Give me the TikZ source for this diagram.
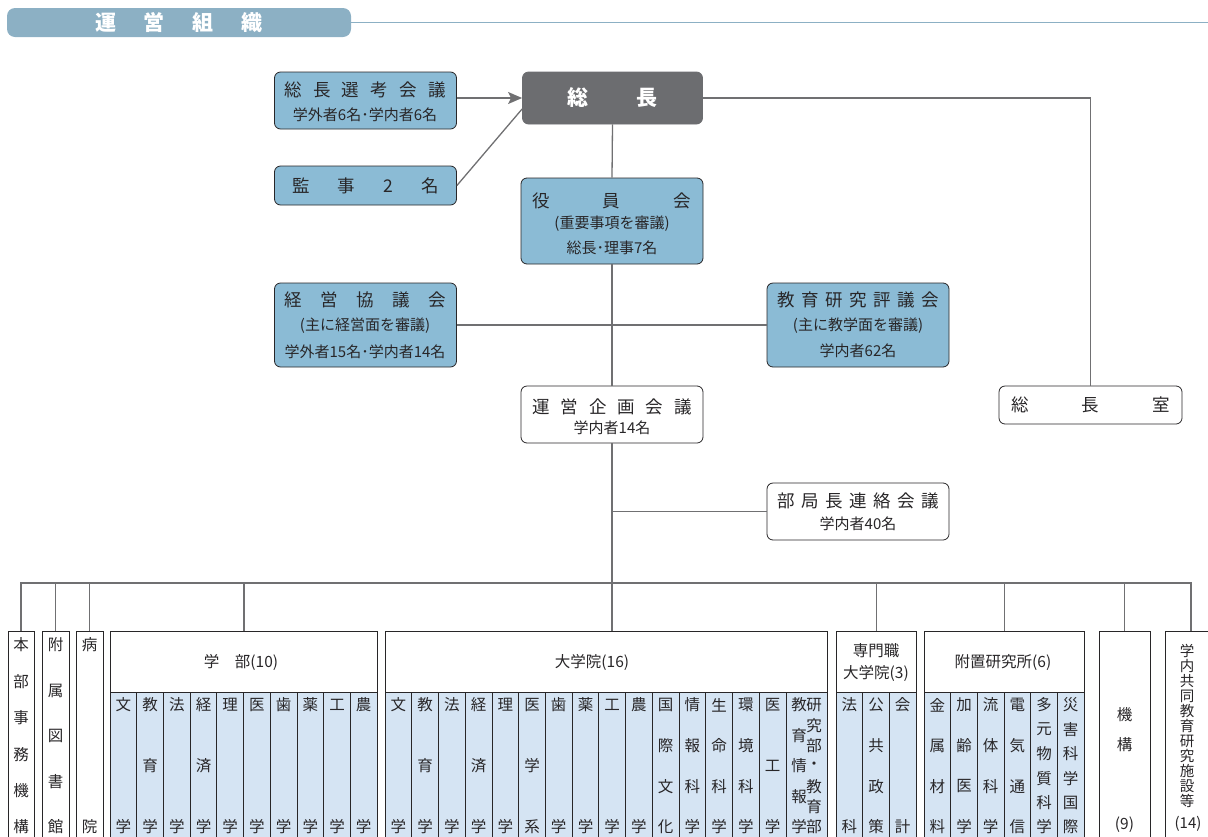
\documentclass[tikz,border=0pt]{standalone}
\usepackage{fontspec}
\setmainfont{Noto Sans CJK JP}
\usetikzlibrary{arrows.meta}

\definecolor{boxblue}{RGB}{139,187,213}
\definecolor{chiefgray}{RGB}{108,109,112}
\definecolor{colblue}{RGB}{213,228,243}
\definecolor{titleblue}{RGB}{140,176,196}
\definecolor{linegray}{RGB}{112,112,114}
\definecolor{inkgray}{RGB}{40,38,40}

% spread the characters of a label over a fixed width
\newcommand\spreadline[2]{\makebox[#1pt]{#2}}

\begin{document}
\begin{tikzpicture}[
    x=1pt, y=-1pt,
    >=Stealth, % Set default arrow tip style
    orgbox/.style={draw=inkgray, line width=0.8pt, rounded corners=6pt, minimum width=182, inner sep=0pt, text=inkgray},
    bluebox/.style={orgbox, fill=boxblue},
    plainbox/.style={orgbox, fill=white},
    headbox/.style={draw=inkgray, line width=0.8pt, fill=white, inner sep=0pt},
    colbody/.style={draw=inkgray, line width=0.8pt, fill=colblue},
    colline/.style={draw=inkgray, line width=0.7pt},
    link/.style={draw=linegray, line width=1.3pt},
    lbl/.style={inner sep=0pt, text=inkgray},
    bigtext/.style={lbl, font=\fontsize{17.5}{20}\selectfont},
    subtext/.style={lbl, font=\fontsize{15}{17}\selectfont},
    headtext/.style={lbl, font=\fontsize{15.5}{18}\selectfont},
    colchar/.style={lbl, font=\fontsize{15.5}{18}\selectfont}
]
    \useasboundingbox (0,0) rectangle (1208,836);

    \def\coltop{705}  % first character of a column
    \def\colbot{827}  % last character of a column
    \def\boxbot{852}  % columns run off the page

    % --- Title bar ---
    \node[fill=titleblue, rounded corners=8pt, minimum width=344, minimum height=29, inner sep=0pt,
          text=white, font=\fontsize{21}{24}\selectfont\bfseries] (title) at (179,22.5)
          {\spreadline{168}{運\hfill 営\hfill 組\hfill 織}};
    \coordinate (titleend) at (1208,22.5);
    \draw[draw=titleblue, line width=1.5pt] (title.east) -- (titleend);

    % --- Top boxes ---
    \node[bluebox, minimum height=57] (kouko) at (365.5,100.5) {};
    \node[bigtext] (kouko-t1) at (365,90) {\spreadline{161}{総\hfill 長\hfill 選\hfill 考\hfill 会\hfill 議}};
    \node[subtext] (kouko-t2) at (365,115) {学外者6名･学内者6名};

    \node[orgbox, fill=chiefgray, draw=chiefgray, minimum width=180, minimum height=52,
          text=white, font=\fontsize{21}{24}\selectfont\bfseries] (souchou) at (612.5,98)
          {\spreadline{91}{総\hfill 長}};

    \node[bluebox, minimum height=39, font=\fontsize{17.5}{20}\selectfont] (kanji) at (365.5,185.5)
          {\spreadline{147}{監\hfill 事\hfill 2\hfill 名}};

    \node[bluebox, minimum height=86] (yakuin) at (612,221) {};
    \node[bigtext] (yakuin-t1) at (611.5,201) {\spreadline{158}{役\hfill 員\hfill 会}};
    \node[subtext] (yakuin-t2) at (612,224) {(重要事項を審議)};
    \node[subtext] (yakuin-t3) at (612,248) {総長･理事7名};

    \node[bluebox, minimum height=84] (keiei) at (365.5,325) {};
    \node[bigtext] (keiei-t1) at (365,300) {\spreadline{161}{経\hfill 営\hfill 協\hfill 議\hfill 会}};
    \node[subtext] (keiei-t2) at (365,326) {(主に経営面を審議)};
    \node[subtext] (keiei-t3) at (365,352) {学外者15名･学内者14名};

    \node[bluebox, minimum height=84] (kyoiku) at (858,325) {};
    \node[bigtext] (kyoiku-t1) at (858,300) {\spreadline{161}{教\hfill 育\hfill 研\hfill 究\hfill 評\hfill 議\hfill 会}};
    \node[subtext] (kyoiku-t2) at (858,326) {(主に教学面を審議)};
    \node[subtext] (kyoiku-t3) at (858,351) {学内者62名};

    \node[plainbox, minimum height=57] (unyo) at (612,414.5) {};
    \node[bigtext] (unyo-t1) at (612,407) {\spreadline{160}{運\hfill 営\hfill 企\hfill 画\hfill 会\hfill 議}};
    \node[subtext] (unyo-t2) at (612,428) {学内者14名};

    \node[plainbox, minimum height=57] (bukyoku) at (858,511.5) {};
    \node[bigtext] (bukyoku-t1) at (858,501) {\spreadline{161}{部\hfill 局\hfill 長\hfill 連\hfill 絡\hfill 会\hfill 議}};
    \node[subtext] (bukyoku-t2) at (858,524) {学内者40名};

    \node[plainbox, minimum width=183, minimum height=38, font=\fontsize{17.5}{20}\selectfont] (shitsu) at (1090.5,405)
          {\spreadline{159}{総\hfill 長\hfill 室}};

    % --- Bottom row: single boxes ---
    \node[headbox, anchor=north, minimum width=26, minimum height=221] (honbu) at (21,631) {};
    \node[headbox, anchor=north, minimum width=27, minimum height=221] (fuzoku) at (55.5,631) {};
    \node[headbox, anchor=north, minimum width=27, minimum height=221] (byoin) at (89.5,631) {};
    \node[headbox, anchor=north, minimum width=51, minimum height=221] (kikou) at (1124.5,631) {};
    \node[headbox, anchor=north, minimum width=52, minimum height=221] (gakunai) at (1191,631) {};

    \foreach \cx/\n/\chars [count=\j] in {21/6/{本,部,事,務,機,構}, 55.5/5/{附,属,図,書,館}, 89.5/2/{病,院}} {
        \foreach \c [count=\k from 0] in \chars
            \node[colchar] (sg\j-\k) at (\cx,{645+\k*(\colbot-645)/(\n-1)}) {\c};
    }
    \node[colchar] (kikou-t1) at (1124.5,715) {機};
    \node[colchar] (kikou-t2) at (1124.5,745) {構};
    \node[colchar] (kikou-t3) at (1124.5,825) {(9)};
    \foreach \c [count=\k from 0] in {学,内,共,同,教,育,研,究,施,設,等}
        \node[lbl, font=\fontsize{14.5}{16}\selectfont] (gn-\k) at (1187,{651+\k*15}) {\c};
    \node[lbl, font=\fontsize{15}{17}\selectfont] (gn-num) at (1188,824) {(14)};

    % --- Bottom row: grouped boxes ---
    % 学部
    \draw[colbody] (110,692) rectangle (377,\boxbot);
    \foreach \i in {1,...,9}
        \draw[colline] ({110+\i*26.7},692) -- ({110+\i*26.7},\boxbot);
    \node[headbox, anchor=north west, minimum width=267, minimum height=61] (gakubu) at (110,631) {};
    \node[headtext] (gakubu-t) at (241,662) {学　部(10)};

    % 大学院
    \draw[colbody] (385,692) rectangle (827,\boxbot);
    \foreach \i in {1,...,15}
        \draw[colline] ({385+\i*26.73},692) -- ({385+\i*26.73},\boxbot);
    \node[headbox, anchor=north west, minimum width=442, minimum height=61] (daigakuin) at (385,631) {};
    \node[headtext] (daigakuin-t) at (592,662) {大学院(16)};

    % 専門職大学院
    \draw[colbody] (836,692) rectangle (916,\boxbot);
    \foreach \i in {1,2}
        \draw[colline] ({836+\i*26.67},692) -- ({836+\i*26.67},\boxbot);
    \node[headbox, anchor=north west, minimum width=80, minimum height=61] (senmon) at (836,631) {};
    \node[headtext] (senmon-t1) at (876,651) {専門職};
    \node[headtext] (senmon-t2) at (876,673) {大学院(3)};

    % 附置研究所
    \draw[colbody] (924,692) rectangle (1084,\boxbot);
    \foreach \i in {1,...,5}
        \draw[colline] ({924+\i*26.67},692) -- ({924+\i*26.67},\boxbot);
    \node[headbox, anchor=north west, minimum width=160, minimum height=61] (fuchi) at (924,631) {};
    \node[headtext] (fuchi-t) at (1003,662) {附置研究所(6)};

    % column characters, spread between \coltop and \colbot
    \foreach \cx/\n/\chars [count=\j] in {
        123.4/2/{文,学}, 150.1/3/{教,育,学}, 176.8/2/{法,学}, 203.5/3/{経,済,学}, 230.2/2/{理,学},
        256.9/2/{医,学}, 283.6/2/{歯,学}, 310.3/2/{薬,学}, 337/2/{工,学}, 363.7/2/{農,学},
        398.4/2/{文,学}, 425.1/3/{教,育,学}, 451.8/2/{法,学}, 478.6/3/{経,済,学}, 505.3/2/{理,学},
        532/3/{医,学,系}, 558.7/2/{歯,学}, 585.5/2/{薬,学}, 612.2/2/{工,学}, 638.9/2/{農,学},
        665.7/4/{国,際,文,化}, 692.4/4/{情,報,科,学}, 719.1/4/{生,命,科,学}, 745.8/4/{環,境,科,学},
        772.6/3/{医,工,学}, 799/5/{教,育,情,報,学}, 814/7/{研,究,部,・,教,育,部},
        849.3/2/{法,科}, 876/4/{公,共,政,策}, 902.7/2/{会,計},
        937.3/4/{金,属,材,料}, 964/4/{加,齢,医,学}, 990.7/4/{流,体,科,学}, 1017.3/4/{電,気,通,信},
        1044/6/{多,元,物,質,科,学}, 1070.7/6/{災,害,科,学,国,際}} {
        \foreach \c [count=\k from 0] in \chars
            \node[colchar] (cc\j-\k) at (\cx,{\coltop+\k*(\colbot-\coltop)/(\n-1)}) {\c};
    }

    % --- Connectors (drawn last) ---
    \draw[link, -{Stealth[length=14pt, width=12pt, inset=3pt]}] (kouko.east |- souchou.west) -- (souchou.west);
    \draw[link] (kanji.east) -- ([yshift=-11pt]souchou.west);
    \draw[link] (souchou.south) -- (yakuin.north);
    \draw[link] (yakuin.south) -- (unyo.north);
    \draw[link] (keiei.east) -- (kyoiku.west);
    \draw[link] (bukyoku.west) -- (bukyoku.west -| unyo.south);
    \draw[link] (souchou.east) -| (shitsu.north);

    \coordinate (bus) at (612,583);
    \draw[link] (unyo.south) -- (bus);
    \foreach \g in {honbu,fuzoku,byoin,gakubu,senmon,fuchi,kikou,gakunai}
        \draw[link] (\g.north) |- (bus);
    \draw[link] (bus) -- (bus |- daigakuin.north);
\end{tikzpicture}
\end{document}
